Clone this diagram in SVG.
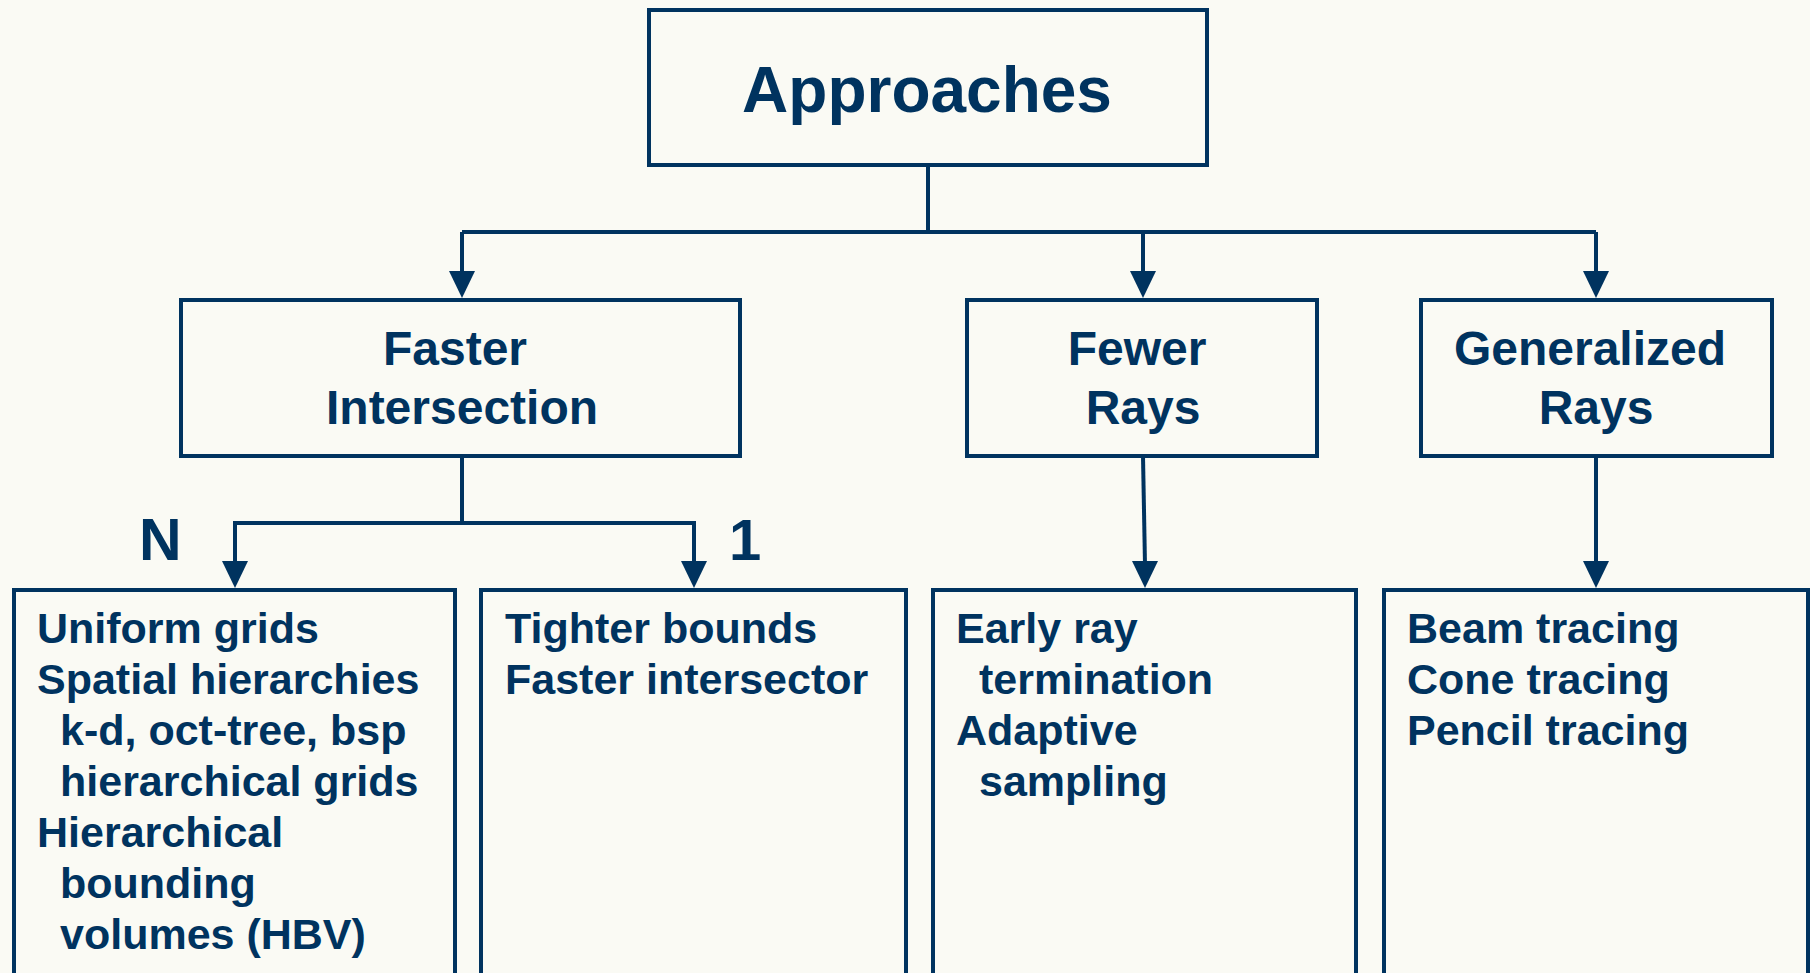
<svg xmlns="http://www.w3.org/2000/svg" width="1810" height="973" viewBox="0 0 1810 973">
<style>
.box{fill:none;stroke:#00335F;stroke-width:4}
.ln{fill:none;stroke:#00335F;stroke-width:4}
.ah{fill:#00335F}
text{font-family:"Liberation Sans",Arial,sans-serif;font-weight:bold;fill:#00335F}
.h{font-size:48px;text-anchor:middle}
.b{font-size:43px}
</style>
<rect x="0" y="0" width="1810" height="973" fill="#FAFAF4"/>
<g id="connectors">
<path class="ln" d="M928,165 V232 M462,232 H1596 M462,232 V275 M1143,232 V275 M1596,232 V275"/>
<polygon class="ah" points="449,271 475,271 462,298"/>
<polygon class="ah" points="1130,271 1156,271 1143,298"/>
<polygon class="ah" points="1583,271 1609,271 1596,298"/>
<path class="ln" d="M462,456 V523 M235,523 H694 M235,521 V565 M694,521 V565"/>
<polygon class="ah" points="222,561 248,561 235,588"/>
<polygon class="ah" points="681,561 707,561 694,588"/>
<path class="ln" d="M1143,456 L1145,565"/>
<polygon class="ah" points="1132,561 1158,561 1145,588"/>
<path class="ln" d="M1596,456 V565"/>
<polygon class="ah" points="1583,561 1609,561 1596,588"/>
</g>
<g id="labels">
<text x="139" y="560" style="font-size:59px">N</text>
<text x="729" y="560" style="font-size:58px">1</text>
</g>
<g id="approaches">
<rect class="box" x="649" y="10" width="558" height="155"/>
<text x="927" y="112" style="font-size:64px;text-anchor:middle">Approaches</text>
</g>
<g id="faster-intersection">
<rect class="box" x="181" y="300" width="559" height="156"/>
<text class="h" x="455" y="365">Faster</text>
<text class="h" x="462" y="424">Intersection</text>
</g>
<g id="fewer-rays">
<rect class="box" x="967" y="300" width="350" height="156"/>
<text class="h" x="1137" y="365">Fewer</text>
<text class="h" x="1143" y="424">Rays</text>
</g>
<g id="generalized-rays">
<rect class="box" x="1421" y="300" width="351" height="156"/>
<text class="h" x="1590" y="365">Generalized</text>
<text class="h" x="1596" y="424">Rays</text>
</g>
<g id="list-n">
<rect class="box" x="14" y="590" width="441" height="400"/>
<text class="b" x="37" y="643">Uniform grids</text>
<text class="b" x="37" y="694">Spatial hierarchies</text>
<text class="b" x="60" y="745">k-d, oct-tree, bsp</text>
<text class="b" x="60" y="796">hierarchical grids</text>
<text class="b" x="37" y="847">Hierarchical</text>
<text class="b" x="60" y="898">bounding</text>
<text class="b" x="60" y="949">volumes (HBV)</text>
</g>
<g id="list-1">
<rect class="box" x="481" y="590" width="425" height="400"/>
<text class="b" x="505" y="643">Tighter bounds</text>
<text class="b" x="505" y="694">Faster intersector</text>
</g>
<g id="list-fewer">
<rect class="box" x="933" y="590" width="423" height="400"/>
<text class="b" x="956" y="643">Early ray</text>
<text class="b" x="979" y="694">termination</text>
<text class="b" x="956" y="745">Adaptive</text>
<text class="b" x="979" y="796">sampling</text>
</g>
<g id="list-generalized">
<rect class="box" x="1384" y="590" width="424" height="400"/>
<text class="b" x="1407" y="643">Beam tracing</text>
<text class="b" x="1407" y="694">Cone tracing</text>
<text class="b" x="1407" y="745">Pencil tracing</text>
</g>
</svg>
